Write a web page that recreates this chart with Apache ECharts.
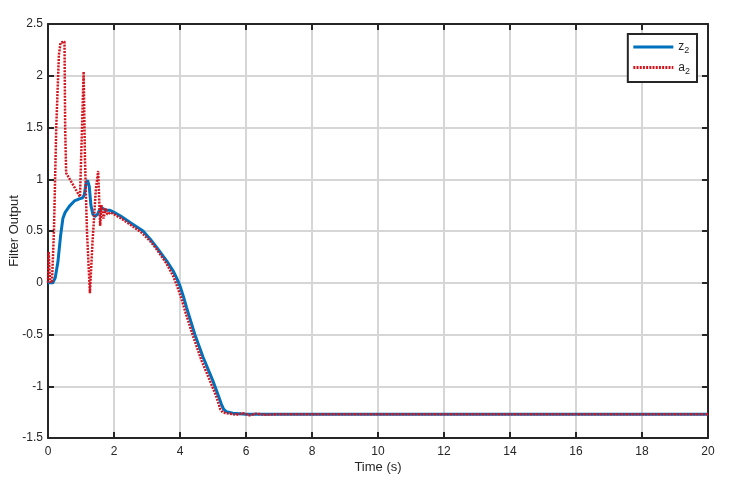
<!DOCTYPE html>
<html>
<head>
<meta charset="utf-8">
<script src="https://cdn.jsdelivr.net/npm/echarts@6/dist/echarts.min.js"></script>
<style>
  html, body { margin: 0; padding: 0; background: #fff; }
  #chart { width: 735px; height: 485px; }
</style>
</head>
<body>
<div id="chart"></div>
<script>
  // z2 (blue, solid)
  var tZ = [0, 0.15, 0.22, 0.3, 0.38, 0.45, 0.52, 0.65, 0.8, 0.95, 1.05, 1.1, 1.15, 1.2, 1.25, 1.3, 1.36, 1.42,
    1.5, 1.57, 1.65, 1.75, 1.88, 2.0, 2.2, 2.5, 2.88, 3.1, 3.3, 3.6, 3.8, 3.9, 4.0, 4.1, 4.2, 4.45, 4.7, 5.0,
    5.15, 5.25, 5.32, 5.4, 5.6, 6.0, 20];
  var z2 = [0, 0, 0.05, 0.2, 0.45, 0.62, 0.68, 0.74, 0.79, 0.81, 0.82, 0.85, 0.96, 0.99, 0.93, 0.75, 0.66, 0.64,
    0.66, 0.71, 0.72, 0.70, 0.70, 0.68, 0.645, 0.58, 0.50, 0.42, 0.34, 0.21, 0.11, 0.045, -0.03, -0.13, -0.24, -0.5, -0.72, -0.95,
    -1.08, -1.17, -1.22, -1.245, -1.26, -1.27, -1.27];

  // a2 (red, dotted)
  var tA = [0, 0.02, 0.06, 0.12, 0.18, 0.25, 0.33, 0.38, 0.5, 0.52, 0.55, 0.97, 1.02, 1.08, 1.12, 1.18, 1.27,
    1.35, 1.45, 1.52, 1.58, 1.62, 1.68, 1.75, 1.8, 1.9, 1.95, 2.2, 2.5, 2.85, 3.1, 3.3, 3.6, 3.8, 3.92, 4.05,
    4.15, 4.4, 4.65, 4.95, 5.1, 5.22, 5.3, 5.5, 5.7, 5.9, 6.1, 6.3, 6.6, 7, 20];
  var a2 = [0, 0.3, 0.02, 0.0, 0.5, 1.5, 2.2, 2.32, 2.33, 1.5, 1.06, 0.83, 0.83, 2.04, 1.2, 0.5, -0.1,
    0.4, 0.9, 1.08, 0.55, 0.75, 0.62, 0.72, 0.66, 0.68, 0.67, 0.625, 0.56, 0.48, 0.40, 0.32, 0.18, 0.06, -0.04, -0.16,
    -0.27, -0.52, -0.75, -0.98, -1.1, -1.22, -1.255, -1.265, -1.275, -1.26, -1.28, -1.265, -1.275, -1.27, -1.27];

  var xTicks = { min: 0, max: 20, interval: 2 };
  var yTicks = { min: -1.5, max: 2.5, interval: 0.5 };

  var pairs = function (xs, ys) {
    return xs.map(function (x, i) { return [x, ys[i]]; });
  };

  var chart = echarts.init(document.getElementById('chart'));
  var axisCommon = {
    type: 'value',
    axisLine: { show: true, onZero: false, lineStyle: { color: '#262626', width: 2 } },
    axisTick: { show: true, inside: true, length: 6, lineStyle: { color: '#262626', width: 2 } }
  };
  var font = 'Liberation Sans, Arial, sans-serif';

  var option = {
    animation: false,
    backgroundColor: '#fff',
    grid: { left: 48, top: 24, right: 27, bottom: 47, outerBoundsMode: 'none', containLabel: false },
    legend: {
      orient: 'vertical',
      right: 38,
      top: 34,
      backgroundColor: '#fff',
      borderColor: '#262626',
      borderWidth: 2,
      borderRadius: 0,
      padding: [7, 7, 6, 4],
      itemGap: 6,
      itemWidth: 40,
      itemHeight: 12,
      itemStyle: { opacity: 0 },
      lineStyle: { width: 3 },
      data: ['z2', 'a2'],
      formatter: function (name) {
        return '{b|' + name.charAt(0) + '}{s|' + name.charAt(1) + '}';
      },
      textStyle: {
        fontFamily: font,
        color: '#262626',
        rich: {
          b: { fontSize: 12, fontFamily: font, color: '#262626' },
          s: { fontSize: 9, fontFamily: font, color: '#262626', padding: [8, 0, 0, 0] }
        }
      }
    },
    xAxis: [
      Object.assign({}, axisCommon, xTicks, {
        position: 'bottom',
        name: 'Time (s)',
        nameLocation: 'middle',
        nameGap: 23,
        nameMoveOverlap: false,
        nameTextStyle: { fontFamily: font, fontSize: 13, color: '#262626' },
        axisLabel: { fontFamily: font, fontSize: 12, color: '#262626', margin: 8 },
        splitLine: { show: true, lineStyle: { color: '#d6d6d6', width: 2 } }
      }),
      Object.assign({}, axisCommon, xTicks, {
        position: 'top',
        axisLabel: { show: false },
        splitLine: { show: false }
      })
    ],
    yAxis: [
      Object.assign({}, axisCommon, yTicks, {
        position: 'left',
        name: 'Filter Output',
        nameLocation: 'middle',
        nameGap: 27,
        nameMoveOverlap: false,
        nameTextStyle: { fontFamily: font, fontSize: 13, color: '#262626' },
        axisLabel: { fontFamily: font, fontSize: 12, color: '#262626', margin: 5 },
        splitLine: { show: true, lineStyle: { color: '#d6d6d6', width: 2 } }
      }),
      Object.assign({}, axisCommon, yTicks, {
        position: 'right',
        axisLabel: { show: false },
        splitLine: { show: false }
      })
    ],
    series: [
      {
        name: 'z2',
        type: 'line',
        symbol: 'none',
        color: '#0072bd',
        lineStyle: { color: '#0072bd', width: 3 },
        data: pairs(tZ, z2)
      },
      {
        name: 'a2',
        type: 'line',
        symbol: 'none',
        color: '#d4141c',
        lineStyle: { color: '#d4141c', width: 2.5, type: [2, 1.2] },
        data: pairs(tA, a2)
      }
    ]
  };
  chart.setOption(option);
</script>
</body>
</html>
